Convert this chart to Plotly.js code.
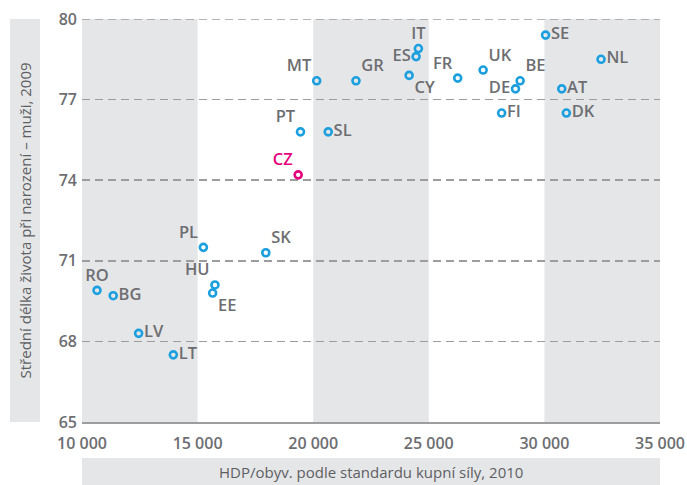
<!DOCTYPE html>
<html>
<head>
<meta charset="utf-8">
<script src="https://cdn.plot.ly/plotly-3.0.1.min.js"></script>
<style>html,body{margin:0;padding:0;background:#fff;}#chart{width:687px;height:485px;}</style>
</head>
<body>
<div id="chart"></div>
<script>
// Data
const countries = ["RO","BG","LV","LT","PL","SK","HU","EE","PT","CZ","SL","MT","GR","CY","ES","IT","FR","UK","BE","DE","FI","SE","NL","AT","DK"];
const gdpPPS2010 = [10650,11350,12450,13950,15250,17950,15750,15650,19450,19350,20650,20150,21850,24150,24450,24550,26250,27350,28950,28750,28150,30050,32450,30750,30950];
const lifeExpMen2009 = [69.9,69.7,68.3,67.5,71.5,71.3,70.1,69.8,75.8,74.2,75.8,77.7,77.7,77.9,78.6,78.9,77.8,78.1,77.7,77.4,76.5,79.4,78.5,77.4,76.5];
const xTicks = [10000,15000,20000,25000,30000,35000];
const yTicks = [65,68,71,74,77,80];
const highlight = "CZ";

// Styles
const labelPos = {RO:"top center",BG:"middle right",LV:"middle right",LT:"middle right",PL:"top left",SK:"top right",
  HU:"top left",EE:"bottom right",PT:"top left",CZ:"top left",SL:"middle right",MT:"top left",GR:"top right",
  CY:"bottom right",ES:"middle left",IT:"top center",FR:"top left",UK:"top right",BE:"top right",DE:"middle left",
  FI:"middle right",SE:"middle right",NL:"middle right",AT:"middle right",DK:"middle right"};
const blue = "#1b9fde", pink = "#e5007d", grey = "#6d6e71", band = "#e5e6e8", gridGrey = "#9d9d9f";
const gridDash = "8px,5px";

const colors = countries.map(c => c === highlight ? pink : blue);
const textColors = countries.map(c => c === highlight ? pink : grey);

const trace = {
  type: "scatter", mode: "markers+text",
  x: gdpPPS2010, y: lifeExpMen2009, text: countries,
  textposition: countries.map(c => labelPos[c]),
  textfont: {family: "Open Sans, sans-serif", size: 16.5, color: textColors, weight: 600},
  marker: {symbol: "circle-open", size: 7, color: colors, line: {width: 2.6, color: colors}},
  cliponaxis: false, hoverinfo: "skip"
};

const shapes = [];
[[10000,15000],[20000,25000],[30000,35000]].forEach(b => shapes.push({
  type: "rect", xref: "x", yref: "y", x0: b[0], x1: b[1], y0: 65, y1: 80,
  fillcolor: band, line: {width: 0}, layer: "below"
}));
shapes.push({type:"line", xref:"x", yref:"y", x0:10000, x1:35000, y0:80, y1:80,
  line:{color:gridGrey, width:1.5, dash:gridDash}, layer:"between"});
shapes.push({type:"rect", xref:"paper", yref:"paper", x0:-0.1246, x1:-0.0727, y0:0, y1:1, fillcolor:band, line:{width:0}, layer:"below"});
shapes.push({type:"rect", xref:"paper", yref:"paper", x0:0, x1:1, y0:-0.16, y1:-0.0893, fillcolor:band, line:{width:0}, layer:"below"});

const layout = {
  width: 687, height: 485,
  margin: {l: 82, r: 27, t: 19, b: 63},
  paper_bgcolor: "#fff", plot_bgcolor: "rgba(0,0,0,0)",
  separators: ", ",
  showlegend: false,
  font: {family: "Open Sans, sans-serif", color: grey},
  xaxis: {
    range: [10000, 35000], tickvals: xTicks, tickformat: ",d",
    showgrid: false, zeroline: false,
    showline: true, linecolor: gridGrey, linewidth: 2,
    ticks: "", ticklabelstandoff: 6,
    tickfont: {size: 16, color: grey, weight: 600}
  },
  yaxis: {
    range: [65, 80], tickvals: yTicks,
    showgrid: true, gridcolor: gridGrey, gridwidth: 1.5, griddash: gridDash,
    zeroline: false, showline: false, ticks: "", ticklabelstandoff: 4,
    tickfont: {size: 16, color: grey, weight: 600}
  },
  shapes: shapes,
  annotations: [
    {xref:"paper", yref:"paper", x:-0.0987, y:0.5, text:"Střední délka života při narození – muži, 2009",
     textangle:-90, showarrow:false, font:{size:15, color:"#5e5f62"}, xanchor:"center", yanchor:"middle"},
    {xref:"paper", yref:"paper", x:0.5, y:-0.124, text:"HDP/obyv. podle standardu kupní síly, 2010",
     showarrow:false, font:{size:15, color:"#5e5f62"}, xanchor:"center", yanchor:"middle"}
  ]
};

Plotly.newPlot("chart", [trace], layout, {displayModeBar: false, staticPlot: true});
</script>
</body>
</html>
